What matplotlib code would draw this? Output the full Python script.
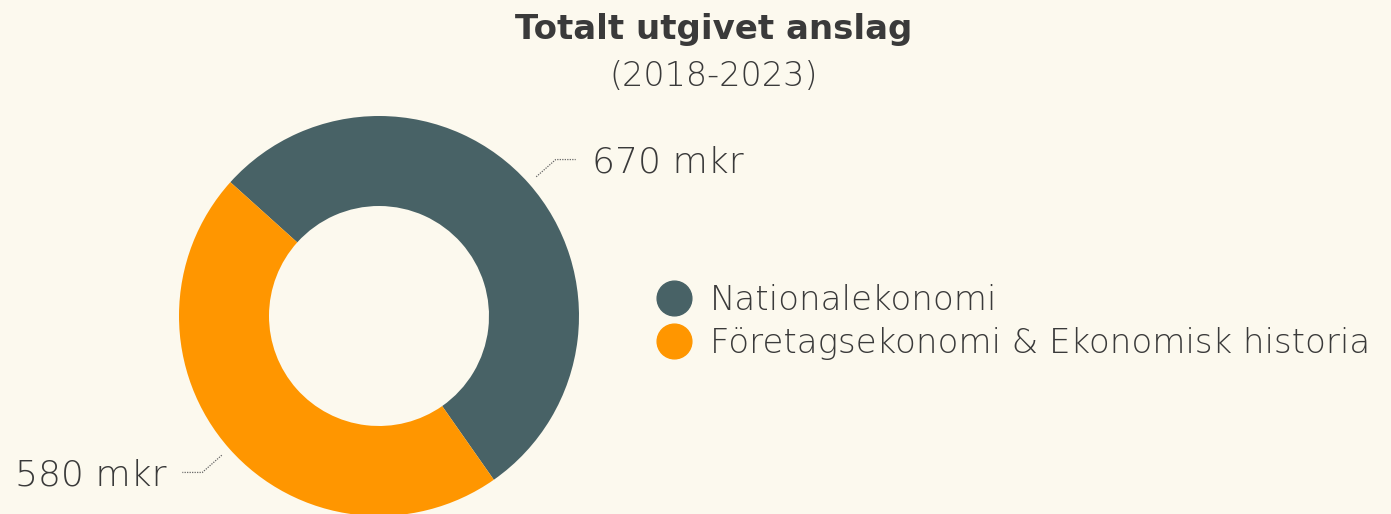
import numpy as np
import matplotlib.pyplot as plt
from matplotlib.lines import Line2D

# ---------- data ----------
labels = ["Nationalekonomi", "Företagsekonomi & Ekonomisk historia"]
values = [670, 580]
value_labels = ["670 mkr", "580 mkr"]
colors = ["#486266", "#FF9600"]

bg = "#FCF9EE"
txt = "#3a3a3a"
plt.rcParams['font.family'] = ['DejaVu Sans']

W, H = 1391, 514
fig = plt.figure(figsize=(W / 100, H / 100), dpi=100, facecolor=bg)
ax = fig.add_axes([0, 0, 1, 1])
ax.set_facecolor(bg)

cx, cy, R = 379, 198, 200
wedges, _ = ax.pie(values, colors=colors, startangle=138, counterclock=False,
                   radius=R, center=(cx, cy), frame=True,
                   wedgeprops=dict(width=R * 0.45, linewidth=0))
ax.set_xlim(0, W)
ax.set_ylim(0, H)
ax.set_aspect('equal')
ax.axis('off')

# ---------- leader lines + value labels ----------
for w, lab in zip(wedges, value_labels):
    ang = np.deg2rad((w.theta1 + w.theta2) / 2)
    x0, y0 = cx + 1.05 * R * np.cos(ang), cy + 1.05 * R * np.sin(ang)
    x1, y1 = cx + 1.18 * R * np.cos(ang), cy + 1.18 * R * np.sin(ang)
    sgn = 1 if np.cos(ang) > 0 else -1
    x2 = x1 + sgn * 20
    ax.plot([x0, x1, x2], [y0, y1, y1], color="#666666", lw=0.9, ls=(0, (1, 1)))
    ax.text(x2 + sgn * 16, y1 - 3, lab, fontsize=26, fontweight='light', color=txt,
            ha='left' if sgn > 0 else 'right', va='center')

# ---------- title ----------
fig.text(714 / W, 1 - 29 / H, "Totalt utgivet anslag", fontsize=24.5, fontweight='bold',
         color=txt, ha='center', va='center')
fig.text(714 / W, 1 - 76 / H, "(2018-2023)", fontsize=24, fontweight='light',
         color=txt, ha='center', va='center')

# ---------- legend ----------
handles = [Line2D([], [], marker='o', ls='', markersize=25, color=c) for c in colors]
leg = fig.legend(handles, labels, loc='upper left', bbox_to_anchor=(642 / W, 1 - 270 / H),
                 frameon=False, fontsize=24.5, handletextpad=0.5, labelspacing=0.3,
                 handlelength=1.1, borderaxespad=0)
for t in leg.get_texts():
    t.set_color(txt)
    t.set_fontweight('light')

fig.savefig("out.png", dpi=100, facecolor=bg)
